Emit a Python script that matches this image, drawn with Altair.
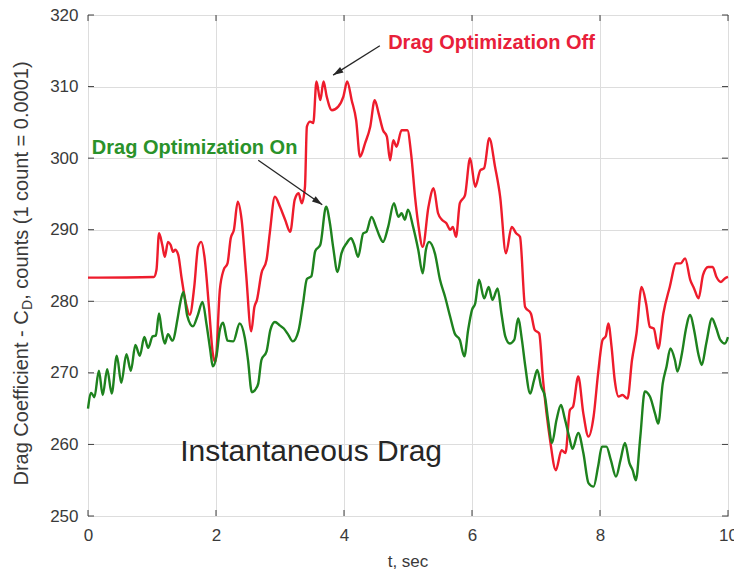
import math
import altair as alt
import pandas as pd

# ---------------- data ----------------
red_t = [0.00, 1.03, 1.07, 1.11, 1.16, 1.20, 1.25, 1.29, 1.33, 1.36,
         1.41, 1.46, 1.53, 1.59, 1.66, 1.72, 1.77, 1.82, 1.89, 1.95,
         1.99, 2.06, 2.12, 2.18, 2.23, 2.28, 2.34, 2.40, 2.47, 2.55,
         2.60, 2.64, 2.71, 2.79, 2.84, 2.92, 3.00, 3.08, 3.16, 3.23,
         3.29, 3.34, 3.39, 3.42, 3.47, 3.52, 3.57, 3.63, 3.68, 3.73,
         3.81, 3.91, 3.99, 4.05, 4.12, 4.19, 4.25, 4.33, 4.41, 4.48,
         4.54, 4.61, 4.67, 4.72, 4.77, 4.82, 4.90, 4.99, 5.05, 5.11,
         5.16, 5.23, 5.32, 5.40, 5.47, 5.53, 5.60, 5.66, 5.70, 5.75,
         5.81, 5.89, 5.97, 6.05, 6.13, 6.19, 6.27, 6.36, 6.44, 6.53,
         6.62, 6.69, 6.75, 6.83, 6.92, 6.98, 7.05, 7.11, 7.22, 7.31,
         7.40, 7.46, 7.53, 7.58, 7.66, 7.74, 7.82, 7.90, 7.97, 8.04,
         8.09, 8.13, 8.18, 8.23, 8.29, 8.35, 8.43, 8.50, 8.57, 8.65,
         8.72, 8.78, 8.84, 8.91, 8.99, 9.09, 9.19, 9.26, 9.33, 9.41,
         9.47, 9.54, 9.61, 9.69, 9.76, 9.82, 9.89, 9.95, 10.0]
red_v = [283.3, 283.4, 284.4, 289.5, 287.9, 286.2, 288.3, 287.9, 286.9, 287.2,
         286.5, 283.4, 279.7, 278.1, 282.0, 287.6, 288.3, 286.2, 279.2, 272.7,
         271.5, 281.6, 284.4, 285.3, 288.8, 290.0, 293.9, 291.4, 283.9, 275.8,
         279.2, 280.2, 283.9, 285.8, 289.5, 294.6, 293.2, 291.4, 289.7, 294.2,
         295.1, 293.7, 296.0, 304.4, 305.1, 304.9, 310.7, 308.1, 310.7, 308.6,
         306.7, 307.2, 308.6, 310.7, 308.1, 305.3, 300.2, 302.1, 304.4, 308.1,
         306.3, 303.9, 303.0, 299.7, 302.5, 301.6, 303.9, 303.9, 300.5, 294.6,
         290.8, 287.6, 293.2, 295.8, 292.3, 291.4, 290.9, 290.0, 290.4, 289.0,
         293.7, 294.8, 300.0, 296.0, 298.3, 298.6, 302.8, 298.8, 294.6, 286.7,
         290.4, 289.5, 289.0, 279.2, 278.3, 276.0, 275.5, 269.0, 260.6, 256.4,
         259.2, 258.8, 264.8, 265.3, 269.5, 264.3, 261.1, 263.9, 269.9, 274.6,
         275.1, 276.9, 273.7, 269.0, 266.7, 266.9, 266.4, 271.8, 275.5, 282.0,
         279.7, 276.4, 276.2, 273.4, 278.3, 282.0, 285.3, 285.3, 286.0, 283.0,
         281.8, 280.4, 283.7, 284.8, 284.8, 283.4, 282.7, 283.2, 283.4]

green_t = [0.00, 0.05, 0.10, 0.17, 0.23, 0.30, 0.37, 0.45, 0.52, 0.60,
           0.67, 0.74, 0.81, 0.88, 0.94, 1.01, 1.06, 1.11, 1.15, 1.20,
           1.25, 1.32, 1.40, 1.44, 1.49, 1.55, 1.64, 1.71, 1.79, 1.85,
           1.91, 1.95, 2.01, 2.06, 2.11, 2.18, 2.27, 2.37, 2.45, 2.50,
           2.56, 2.61, 2.66, 2.71, 2.79, 2.85, 2.92, 3.00, 3.06, 3.13,
           3.20, 3.29, 3.36, 3.42, 3.49, 3.55, 3.63, 3.72, 3.78, 3.83,
           3.90, 3.96, 4.04, 4.11, 4.16, 4.22, 4.30, 4.35, 4.43, 4.50,
           4.56, 4.61, 4.69, 4.78, 4.85, 4.90, 4.95, 5.00, 5.08, 5.16,
           5.23, 5.28, 5.33, 5.42, 5.50, 5.58, 5.66, 5.73, 5.81, 5.88,
           5.94, 6.00, 6.05, 6.11, 6.19, 6.26, 6.32, 6.40, 6.46, 6.52,
           6.59, 6.66, 6.72, 6.78, 6.83, 6.91, 6.97, 7.02, 7.08, 7.14,
           7.19, 7.25, 7.32, 7.39, 7.45, 7.52, 7.57, 7.66, 7.74, 7.82,
           7.90, 7.97, 8.03, 8.10, 8.17, 8.25, 8.32, 8.39, 8.46, 8.51,
           8.56, 8.63, 8.70, 8.78, 8.86, 8.91, 8.98, 9.04, 9.10, 9.17,
           9.21, 9.28, 9.34, 9.41, 9.47, 9.54, 9.59, 9.66, 9.75, 9.81,
           9.88, 9.95, 10.0]
green_v = [265.0, 267.2, 266.6, 270.3, 266.9, 270.5, 267.1, 272.4, 268.6, 272.6,
           270.3, 273.9, 272.4, 275.0, 273.5, 275.1, 275.2, 278.3, 276.0, 274.1,
           275.4, 274.5, 277.6, 279.7, 281.3, 278.0, 276.5, 277.9, 279.9, 276.9,
           273.2, 270.9, 272.5, 276.0, 277.0, 274.5, 274.4, 276.9, 274.9, 271.8,
           267.3, 267.6, 268.5, 271.8, 273.0, 276.0, 277.1, 276.6, 276.2, 275.3,
           274.4, 275.9, 279.7, 283.1, 283.5, 287.0, 287.9, 293.2, 290.9, 287.6,
           284.1, 286.7, 288.1, 288.8, 287.9, 286.2, 289.5, 289.7, 291.8, 290.4,
           289.0, 288.3, 290.4, 293.7, 291.8, 292.3, 291.4, 292.8, 290.4, 287.2,
           283.9, 287.2, 288.3, 286.7, 283.0, 280.6, 277.8, 275.5, 274.6, 272.3,
           276.0, 278.8, 279.7, 283.0, 280.4, 282.0, 280.2, 281.8, 278.3, 275.1,
           274.1, 274.6, 277.6, 274.6, 271.1, 267.1, 269.0, 270.4, 268.1, 266.7,
           263.4, 260.2, 263.4, 265.5, 263.6, 261.0, 259.4, 261.6, 258.8, 254.6,
           254.1, 256.9, 259.7, 259.7, 257.8, 255.5, 257.8, 260.2, 257.4, 256.4,
           255.0, 261.1, 267.4, 266.7, 264.3, 262.9, 268.5, 270.9, 273.4, 271.8,
           270.2, 272.7, 276.0, 278.1, 276.0, 272.5, 271.1, 274.1, 277.6, 276.4,
           274.6, 274.1, 275.0]

x_ticks = [0, 2, 4, 6, 8, 10]
y_ticks = [250, 260, 270, 280, 290, 300, 310, 320]

ann_labels = ["Drag Optimization Off", "Drag Optimization On"]
ann_t = [4.69, 0.06]
ann_v = [316.1, 301.4]
arrow_t0 = [4.56, 2.66]
arrow_v0 = [315.7, 299.7]
arrow_t1 = [3.83, 3.66]
arrow_v1 = [311.6, 293.5]

note_label = ["Instantaneous Drag"]
note_t = [1.44]
note_v = [258.9]

x_title = ["t, sec"]
ytitle_parts = ["Drag Coefficient - C", "D", ", counts (1 count = 0.0001)"]

# ---------------- style ----------------
W, H = 640, 501
RED = "#ee1c2c"
GREEN = "#1e821e"
RED_TXT = "#e8203a"
GREEN_TXT = "#2a922a"
INK = "#262626"
LBL = "#3a3a3a"
FONT = "Liberation Sans"

xs = alt.Scale(domain=[0, 10], nice=False, zero=False)
ys = alt.Scale(domain=[250, 320], nice=False, zero=False)


def X(field):
    return alt.X(field, scale=xs, title="",
                 axis=alt.Axis(values=x_ticks, grid=True, ticks=False, domain=False,
                               labelPadding=11, labelFlush=False, labelOverlap=False))


def Y(field):
    return alt.Y(field, scale=ys, title="",
                 axis=alt.Axis(values=y_ticks, grid=True, ticks=False, domain=False,
                               labelPadding=10, labelOverlap=False))


lines_df = pd.concat([
    pd.DataFrame({"t": red_t, "v": red_v, "s": "Off", "o": 0}),
    pd.DataFrame({"t": green_t, "v": green_v, "s": "On", "o": 1}),
])

lines = alt.Chart(lines_df).mark_line(strokeWidth=2.4, interpolate="monotone").encode(
    x=X("t:Q"),
    y=Y("v:Q"),
    color=alt.Color("s:N", scale=alt.Scale(domain=["Off", "On"], range=[RED, GREEN]),
                    legend=None),
    order=alt.Order("o:Q"),
)

# inward tick marks on all four sides (MATLAB box style)
ytk = pd.DataFrame({"v": y_ticks})
xtk = pd.DataFrame({"t": x_ticks})
tick_style = dict(color="#404040", strokeWidth=1)
tl = alt.Chart(ytk).mark_rule(**tick_style).encode(
    y=Y("v:Q"), x=alt.value(0), x2=alt.value(6))
tr = alt.Chart(ytk).mark_rule(**tick_style).encode(
    y=Y("v:Q"), x=alt.value(W - 6), x2=alt.value(W))
tb = alt.Chart(xtk).mark_rule(**tick_style).encode(
    x=X("t:Q"), y=alt.value(H - 6), y2=alt.value(H))
tt = alt.Chart(xtk).mark_rule(**tick_style).encode(
    x=X("t:Q"), y=alt.value(0), y2=alt.value(6))

# annotations
px_t = W / 10.0
px_v = H / 70.0
angles = []
for a0, b0, a1, b1 in zip(arrow_t0, arrow_v0, arrow_t1, arrow_v1):
    dx = (a1 - a0) * px_t
    dy = -(b1 - b0) * px_v
    angles.append(math.degrees(math.atan2(dx, -dy)) % 360)

arr_df = pd.DataFrame({"t": arrow_t0, "v": arrow_v0, "t2": arrow_t1, "v2": arrow_v1,
                       "ang": angles})
shafts = alt.Chart(arr_df).mark_rule(color=INK, strokeWidth=1.3).encode(
    x=X("t:Q"), y=Y("v:Q"), x2="t2:Q", y2="v2:Q")
heads = alt.Chart(arr_df).mark_point(shape="M0,0L-0.32,1L0.32,1Z", filled=True,
                                     size=420, opacity=1, color=INK).encode(
    x=X("t2:Q"), y=Y("v2:Q"),
    angle=alt.Angle("ang:Q", scale=None))

ann_df = pd.DataFrame({"t": ann_t, "v": ann_v, "label": ann_labels,
                       "c": [RED_TXT, GREEN_TXT]})
ann = alt.Chart(ann_df).mark_text(align="left", baseline="middle", font=FONT,
                                  fontSize=20, fontWeight="bold").encode(
    x=X("t:Q"), y=Y("v:Q"),
    text="label:N", color=alt.Color("c:N", scale=None))

note_df = pd.DataFrame({"t": note_t, "v": note_v, "label": note_label})
note = alt.Chart(note_df).mark_text(align="left", baseline="middle", font=FONT,
                                    fontSize=30, color=INK).encode(
    x=X("t:Q"), y=Y("v:Q"), text="label:N")

# x-axis title
xt = alt.Chart(pd.DataFrame({"label": x_title})).mark_text(
    align="center", baseline="middle", font=FONT, fontSize=17, color=LBL).encode(
    text="label:N", x=alt.value(W / 2), y=alt.value(H + 46))

# y-axis title with subscript D (rotated text pieces)
TF = 20
SF = 14
w1 = 8.78 * TF
ws = 0.722 * SF
w2 = 11.92 * TF
start = H / 2 + (w1 + ws + w2) / 2 + 8
title_x = 22 - 88
yt1 = alt.Chart(pd.DataFrame({"label": [ytitle_parts[0]]})).mark_text(
    angle=270, align="left", baseline="middle", font=FONT, fontSize=TF, color=LBL).encode(
    text="label:N", x=alt.value(title_x), y=alt.value(start))
yt2 = alt.Chart(pd.DataFrame({"label": [ytitle_parts[1]]})).mark_text(
    angle=270, align="left", baseline="middle", font=FONT, fontSize=SF, color=LBL).encode(
    text="label:N", x=alt.value(title_x + 6), y=alt.value(start - w1))
yt3 = alt.Chart(pd.DataFrame({"label": [ytitle_parts[2]]})).mark_text(
    angle=270, align="left", baseline="middle", font=FONT, fontSize=TF, color=LBL).encode(
    text="label:N", x=alt.value(title_x), y=alt.value(start - w1 - ws))

chart = alt.layer(lines, tl, tr, tb, tt, shafts, heads, ann, note, xt, yt1, yt2, yt3).properties(
    width=W, height=H,
    autosize=alt.AutoSizeParams(type="none"),
    padding={"left": 88, "top": 15, "right": 6, "bottom": 56},
    background="white",
).configure_view(
    stroke="#404040", strokeWidth=1
).configure_axis(
    labelFont=FONT, labelFontSize=17, labelColor=LBL,
    gridColor="#dddddd", gridWidth=1,
)

chart.save("out.html", embed_options={"renderer": "svg", "actions": False})
